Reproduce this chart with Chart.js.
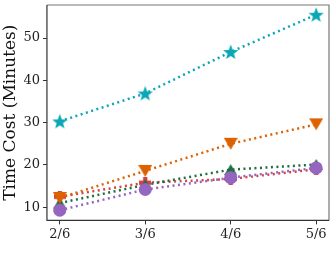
<!DOCTYPE html>
<html>
<head>
<meta charset="utf-8">
<script src="https://cdn.jsdelivr.net/npm/chart.js@4/dist/chart.umd.min.js"></script>
<style>
  html, body { margin: 0; padding: 0; background: #fff; }
  #wrap { width: 332px; height: 263px; }
</style>
</head>
<body>
<div id="wrap"><canvas id="chart"></canvas></div>
<script>
const labels = ["2/6", "3/6", "4/6", "5/6"];
const teal = [30.3, 36.9, 46.7, 55.5];
const purple = [9.3, 14.2, 17.0, 19.3];
const orange = [12.2, 18.6, 25.0, 29.6];
const green = [11.0, 15.3, 18.9, 20.1];
const red = [12.5, 15.8, 16.7, 19.0];

const font = "'DejaVu Serif', serif";

// custom marker images
function makeMarker(kind, color, size) {
  const c = document.createElement("canvas");
  c.width = size; c.height = size;
  const ctx = c.getContext("2d");
  const r = size / 2;
  ctx.fillStyle = color;
  ctx.beginPath();
  if (kind === "star") {
    for (let i = 0; i < 10; i++) {
      const rad = i % 2 === 0 ? r : r * 0.42;
      const ang = -Math.PI / 2 + i * Math.PI / 5;
      const px = r + rad * Math.cos(ang), py = r + 0.6 + rad * Math.sin(ang);
      i === 0 ? ctx.moveTo(px, py) : ctx.lineTo(px, py);
    }
  } else if (kind === "plus") {
    const w = size * 0.18;
    ctx.rect(r - w, 0, 2 * w, size);
    ctx.rect(0, r - w, size, 2 * w);
  } else if (kind === "down") {
    ctx.moveTo(0, 1);
    ctx.lineTo(size, 1);
    ctx.lineTo(r, size - 1);
  } else if (kind === "up") {
    ctx.moveTo(r, 1);
    ctx.lineTo(size, size - 1);
    ctx.lineTo(0, size - 1);
  }
  ctx.closePath();
  ctx.fill();
  return c;
}

function series(vals, color, style, radius) {
  return {
    data: vals.map((v, i) => ({ x: i, y: v })),
    borderColor: color,
    backgroundColor: color,
    borderWidth: 2.5,
    borderDash: [2, 3.5],
    pointStyle: style,
    pointRadius: radius,
    pointBorderWidth: 0,
    fill: false,
    tension: 0
  };
}

const boxPlugin = {
  id: "box",
  afterDraw(chart) {
    const a = chart.chartArea, ctx = chart.ctx;
    ctx.save();
    ctx.strokeStyle = "#777";
    ctx.lineWidth = 1.2;
    ctx.beginPath();
    ctx.moveTo(a.left, a.top);
    ctx.lineTo(a.right, a.top);
    ctx.lineTo(a.right, a.bottom);
    ctx.stroke();
    ctx.strokeStyle = "#333";
    ctx.beginPath();
    ctx.moveTo(a.left, a.top);
    ctx.lineTo(a.left, a.bottom);
    ctx.lineTo(a.right, a.bottom);
    ctx.stroke();
    ctx.restore();
  }
};

new Chart("chart", {
  type: "line",
  data: {
    datasets: [
      series(teal, "#0aa7b5", makeMarker("star", "#0aa7b5", 16), 8),
      series(purple, "#9565c0", "circle", 6.5),
      series(orange, "#de6100", makeMarker("down", "#de6100", 14), 7),
      series(green, "#1e6e40", makeMarker("up", "#1e6e40", 13), 7),
      series(red, "#d24445", makeMarker("plus", "#d24445", 12), 6)
    ]
  },
  options: {
    responsive: true,
    maintainAspectRatio: false,
    animation: false,
    layout: { autoPadding: false, padding: { top: 5, right: 3, left: 0, bottom: 19 } },
    plugins: { legend: { display: false }, tooltip: { enabled: false } },
    scales: {
      x: {
        type: "linear",
        min: -0.15,
        max: 3.15,
        afterBuildTicks: (s) => { s.ticks = [0, 1, 2, 3].map(v => ({ value: v })); },
        afterFit: (s) => { s.paddingLeft = 0; s.paddingRight = 0; },
        ticks: {
          callback: (v) => labels[v],
          color: "#222",
          font: { family: font, size: 13 },
          padding: 2,
          maxRotation: 0
        },
        grid: { drawOnChartArea: false, tickLength: 4, color: "#333" },
        border: { display: false }
      },
      y: {
        min: 6.9,
        max: 57.8,
        afterBuildTicks: (s) => { s.ticks = [10, 20, 30, 40, 50].map(v => ({ value: v })); },
        afterFit: (s) => { s.paddingTop = 0; s.paddingBottom = 0; },
        ticks: {
          color: "#222",
          font: { family: font, size: 13 },
          padding: 3
        },
        grid: { drawOnChartArea: false, tickLength: 4, color: "#333" },
        border: { display: false },
        title: {
          display: true,
          text: "Time Cost (Minutes)",
          color: "#111",
          font: { family: font, size: 17 },
          padding: 0
        }
      }
    }
  },
  plugins: [boxPlugin]
});
</script>
</body>
</html>
